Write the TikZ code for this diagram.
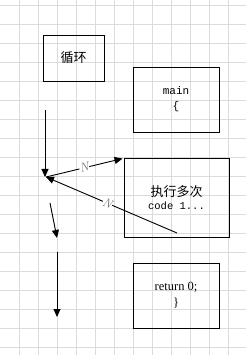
\documentclass[tikz,border=0pt]{standalone}
\usepackage{fontspec}
\setmonofont{Liberation Mono}
\newfontfamily\cjk{Noto Sans CJK SC}
\newfontfamily\codeserif{Liberation Serif}
\usetikzlibrary{arrows.meta}
\tikzset{
  gridline/.style={draw=black!14, line width=0.6pt},
  flowbox/.style={draw, line width=0.9pt, align=center, inner sep=2pt},
  flowarrow/.style={-{Triangle[length=8pt,width=7pt]}, line width=0.9pt},
  nlabel/.style={sloped, fill=white, inner sep=0.4pt, text=black!55, font=\fontsize{12.5}{12.5}\selectfont\itshape}
}
\begin{document}
\begin{tikzpicture}[x=1pt,y=-1pt]
\useasboundingbox (0,0) rectangle (246,355);
\fill[white] (0,0) rectangle (246,355);
% grid
\foreach \i in {1,...,12} \draw[gridline] (19*\i,0) -- (19*\i,355);
\foreach \j in {0,...,18} \draw[gridline] (0,5+19*\j) -- (246,5+19*\j);
% boxes
\node[flowbox, minimum width=61pt, minimum height=46pt, font=\cjk\fontsize{13}{15}\selectfont] (loop) at (73.5,58) {循环};
\node[flowbox, minimum width=86pt, minimum height=65pt, font=\ttfamily\fontsize{11}{15}\selectfont] (mainbox) at (176,99.5) {main\\\{};
\node[flowbox, minimum width=105pt, minimum height=79pt] (repeat) at (176.5,197.5) {{\cjk\fontsize{13}{16}\selectfont 执行多次}\\[1pt]{\ttfamily\fontsize{10.5}{15}\selectfont code 1...}};
\node[flowbox, minimum width=86pt, minimum height=65pt, font=\codeserif\fontsize{12.5}{16}\selectfont] (retbox) at (176,295.5) {return 0;\\\}};
% arrows
\coordinate (loopstart) at (45,110);
\coordinate (hub) at (46,177);
\coordinate (backstart) at (177,233);
\coordinate (exitatop) at (50,203);
\coordinate (exitabot) at (57,238);
\coordinate (exitbtop) at (57,252);
\coordinate (exitbbot) at (57,317);
\draw[flowarrow] (loopstart) -- (45,177);
\draw[flowarrow] (hub) -- node[nlabel] {N} ([shift={(-1,1)}]repeat.north west);
\draw[flowarrow] (backstart) -- node[nlabel, pos=0.53] {N} (hub);
\draw[flowarrow] (exitatop) -- (exitabot);
\draw[flowarrow] (exitbtop) -- (exitbbot);
\end{tikzpicture}
\end{document}
